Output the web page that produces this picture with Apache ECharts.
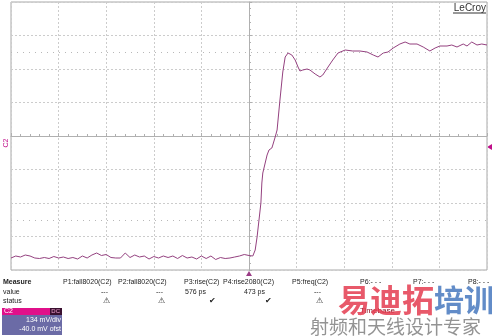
<!DOCTYPE html>
<html><head><meta charset="utf-8">
<script src="https://cdn.jsdelivr.net/npm/echarts@6/dist/echarts.min.js"></script>
<style>html,body{margin:0;padding:0;background:#fff}#c{width:492px;height:336px}</style>
</head><body><div id="c"></div>
<script>
// time in ns (1 ns/div), voltage in mV (134 mV/div, -40 mV offset => centre = 40 mV)
const timesNs = [-5.0,-4.9,-4.8,-4.7,-4.6,-4.5,-4.4,-4.3,-4.2,-4.1,-4.0,-3.9,-3.8,-3.7,-3.6,-3.5,-3.4,-3.3,-3.2,-3.1,-3.0,-2.9,-2.8,-2.7,-2.6,-2.5,-2.4,-2.3,-2.2,-2.1,-2.0,-1.9,-1.8,-1.7,-1.6,-1.5,-1.4,-1.3,-1.2,-1.1,-1.0,-0.9,-0.8,-0.7,-0.6,-0.5,-0.4,-0.3,-0.2,-0.1,0.0,
 0.04,0.08,0.13,0.17,0.21,0.25,0.27,0.29,0.34,0.38,0.42,0.48,0.50,0.55,0.59,0.65,0.71,0.76,0.82,0.90,0.97,1.03,1.07,1.13,1.22,1.28,1.39,1.49,1.55,1.66,1.76,1.87,2.02,2.18,2.33,2.48,2.61,2.71,2.82,2.92,3.03,3.17,3.28,3.38,3.53,3.66,3.80,3.91,4.01,4.16,4.26,4.37,4.50,4.58,4.68,4.79,4.89,5.00];
const voltsMv = [-448,-440,-444,-436,-440,-448,-450,-446,-450,-442,-448,-444,-450,-446,-452,-440,-448,-436,-428,-438,-434,-446,-448,-448,-428,-446,-436,-444,-440,-452,-442,-448,-440,-446,-440,-450,-438,-448,-444,-452,-440,-450,-440,-454,-446,-450,-448,-444,-440,-434,-438,
 -444,-440,-416,-364,-296,-228,-148,-108,-68,-36,-16,-8,4,36,64,184,296,356,372,364,344,316,300,304,308,304,288,276,284,316,344,372,384,380,380,376,364,356,372,376,392,408,416,408,408,396,380,392,400,400,404,396,408,400,416,404,408,404];
const offsetMv = -40;
const voltsPerDiv = 134;
const level80Mv = 376;
const level20Mv = -296;
const measureNames = ['P1:fall8020(C2)','P2:fall8020(C2)','P3:rise(C2)','P4:rise2080(C2)','P5:freq(C2)','P6:- - -','P7:- - -','P8:- - -'];
const measureValues = ['---','---','576 ps','473 ps','---'];
const measureStatus = ['warn','warn','ok','ok','warn'];

const centre = -offsetMv;
const seriesData = timesNs.map((t,i)=>[t, voltsMv[i]-centre]);
const trace = '#94417f';
const mag = '#c0108a';
const F = '"Liberation Sans", Arial, sans-serif';

const chart = echarts.init(document.getElementById('c'), null, {renderer:'canvas'});

const g = [];
const txt = (s,x,y,o={}) => g.push({type:'text', x, y, style:Object.assign({text:s, font:(o.bold?'bold ':'')+(o.size||7)+'px '+F, fill:o.fill||'#222', align:o.align||'left', verticalAlign:'middle'}, o.style||{})});
txt('Measure',3,282,{bold:true});
txt('value',3,292);
txt('status',3,301);
const nameX = [63,118,184,223,292,360,413,468];
measureNames.forEach((n,i)=>txt(n,nameX[i],282));
const valX = [108,163,206,265,321];
measureValues.forEach((v,i)=>txt(v,valX[i],292,{align:'right'}));
const statX = [106,161,212,268,319];
measureStatus.forEach((s,i)=>txt(s==='ok'?'✔':'⚠',statX[i],301,{align:'center',size:8}));
// channel box
g.push({type:'rect', shape:{x:2,y:308,width:60,height:27}, style:{fill:'#6b6ba6'}});
g.push({type:'rect', shape:{x:2,y:308,width:60,height:7}, style:{fill:'#e0108a'}});
g.push({type:'rect', shape:{x:50,y:308,width:12,height:7}, style:{fill:'#3a1030'}});
txt('C2',4,311.5,{size:7,fill:'#fff'});
txt('DC',60,311.5,{size:6,fill:'#f0a0d0',align:'right'});
txt('134 mV/div',61,320,{fill:'#fff',align:'right'});
txt('-40.0 mV ofst',61,329,{fill:'#fff',align:'right'});
// LeCroy logo
txt('LeCroy',486,8,{size:10,fill:'#333',align:'right'});
g.push({type:'line', shape:{x1:453,y1:13,x2:486,y2:13}, style:{stroke:'#333',lineWidth:1}});
// channel markers
g.push({type:'text', x:6, y:143, rotation:Math.PI/2, style:{text:'C2', font:'7px '+F, fill:mag, align:'center', verticalAlign:'middle'}});
g.push({type:'polygon', shape:{points:[[487,147],[492,144],[492,150]]}, style:{fill:mag}});
g.push({type:'polygon', shape:{points:[[249,271],[246,276],[252,276]]}, style:{fill:'#9b3b86'}});
// watermark
txt('Timebase',360,311,{size:8,fill:'#8a1020'});
g.push({type:'text', x:338, y:300, style:{text:'易迪拓', font:'bold 32px "Noto Sans CJK SC"', fill:'rgba(228,60,80,0.85)', verticalAlign:'middle'}});
g.push({type:'text', x:434, y:300, style:{text:'培训', font:'bold 30px "Noto Sans CJK SC"', fill:'rgba(70,120,190,0.85)', verticalAlign:'middle'}});
g.push({type:'text', x:310, y:327, style:{text:'射频和天线设计专家', font:'19px "Noto Sans CJK SC"', fill:'rgba(120,120,120,0.8)', verticalAlign:'middle'}});

chart.setOption({
  animation:false,
  backgroundColor:'#fff',
  grid:{left:11,right:5,top:2,bottom:66,show:true,borderColor:'#a8a8a8',borderWidth:1},
  xAxis:{type:'value',min:-5,max:5,interval:1,
    axisLine:{show:true,onZero:true,lineStyle:{color:'#b0b0b0'}},
    axisTick:{show:true,inside:true,length:3,lineStyle:{color:'#b0b0b0'}},
    minorTick:{show:true,splitNumber:5,length:2,lineStyle:{color:'#b0b0b0'}},
    axisLabel:{show:false},
    splitLine:{show:true,lineStyle:{color:'#cccccc',type:[2,2],width:1}}},
  yAxis:{type:'value',min:-4*voltsPerDiv,max:4*voltsPerDiv,interval:voltsPerDiv,
    axisLine:{show:true,onZero:true,lineStyle:{color:'#b0b0b0'}},
    axisTick:{show:true,inside:true,length:3,lineStyle:{color:'#b0b0b0'}},
    minorTick:{show:true,splitNumber:5,length:2,lineStyle:{color:'#b0b0b0'}},
    axisLabel:{show:false},
    splitLine:{show:true,lineStyle:{color:'#cccccc',type:[2,2],width:1}}},
  series:[{type:'line',data:seriesData,showSymbol:false,symbol:'none',
    lineStyle:{color:trace,width:1},
    markLine:{silent:true,symbol:'none',label:{show:false},
      lineStyle:{color:'#b8b8b8',type:[1,5],width:1},
      data:[{yAxis:level80Mv-centre},{yAxis:level20Mv-centre}]}}],
  graphic:g
});
</script></body></html>
